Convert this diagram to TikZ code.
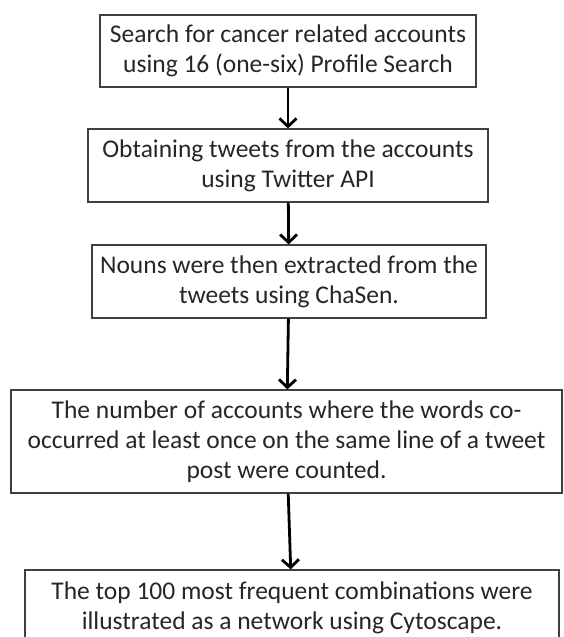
\documentclass[tikz,border=0pt]{standalone}
\usepackage{fontspec}
\setmainfont{Carlito}
\usetikzlibrary{arrows.meta}
\tikzset{
  stage/.style={draw=black!75, line width=1.2pt, align=center, inner sep=0pt,
    font=\fontsize{25.5}{30}\selectfont, text=black!85},
  flow/.style={line width=2.8pt, -{Straight Barb[length=8pt,width=17pt]}}
}
\begin{document}
\begin{tikzpicture}[x=1pt,y=1pt]
	\useasboundingbox (0,0) rectangle (563,637);
	\node[stage, minimum width=376, minimum height=72] (a) at (288,586) {Search for cancer related accounts\\using 16 (one-six) Profile Search};
	\node[stage, minimum width=400, minimum height=73] (b) at (288,471.5) {Obtaining tweets from the accounts\\using Twitter API};
	\node[stage, minimum width=394, minimum height=73] (c) at (289,355.5) {Nouns were then extracted from the\\tweets using ChaSen.};
	\node[stage, minimum width=551, minimum height=103] (d) at (286.5,195.5) {The number of accounts where the words co-\\occurred at least once on the same line of a tweet\\post were counted.};
	\node[stage, minimum width=534, minimum height=76] (e) at (292,29) {The top 100 most frequent combinations were\\illustrated as a network using Cytoscape.};
	\draw[flow] (a) -- (b);
	\draw[flow] (b) -- (c);
	\draw[flow] (c) -- (d);
	\draw[flow] (d) -- (e);
\end{tikzpicture}
\end{document}
